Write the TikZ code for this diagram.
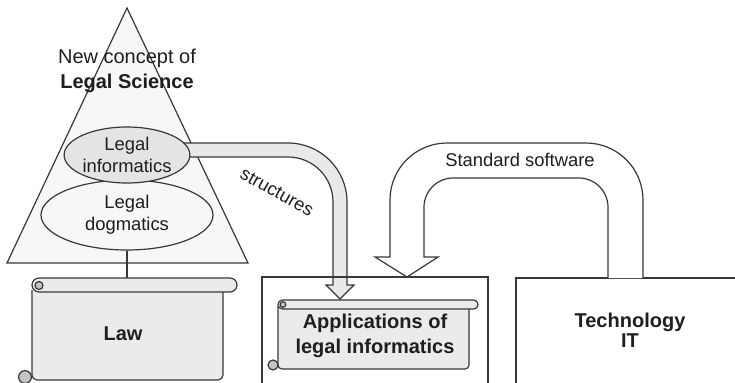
\documentclass[tikz,border=0pt]{standalone}
\usepackage{fontspec}
\setmainfont{Liberation Sans}
\usetikzlibrary{shapes.geometric}

\definecolor{edgegray}{HTML}{383838}
\definecolor{textgray}{HTML}{1E1E1E}
\definecolor{paper}{HTML}{F7F7F7}
\definecolor{infofill}{HTML}{E4E4E4}
\definecolor{scrollfill}{HTML}{EBEBEB}
\definecolor{arrowfill}{HTML}{E9E9E9}
\definecolor{curlfill}{HTML}{C4C4C4}

\begin{document}
\begin{tikzpicture}[x=.5pt, y=-.5pt,
  ln/.style={draw=edgegray, line width=.6pt},
  txt/.style={text=textgray, align=center, font=\fontsize{9.2}{11}\selectfont},
  btxt/.style={text=textgray, align=center, font=\bfseries\fontsize{10}{12.5}\selectfont},
  blob/.style={ellipse, ln, inner sep=0pt, txt}]

\useasboundingbox (0,0) rectangle (735,382);
\clip (0,0) rectangle (735,382);

% pyramid of legal science
\draw[ln, fill=paper] (127,8) -- (248,263) -- (7,263) -- cycle;
\node[txt, font=\fontsize{10}{12.5}\selectfont] (concept) at (127,71) {New concept of\\\textbf{Legal Science}};

\node[blob, fill=paper, minimum width=86pt, minimum height=35pt] (dogma) at (127,215) {Legal\\dogmatics};

% structures arrow, informatics -> applications
\draw[ln, fill=arrowfill] (127,143) -- (288,143) .. controls (320.6,143) and (347,169.4) .. (347,202)
  -- (347,285) -- (354,285) -- (340,299) -- (326,285) -- (333,285) -- (333,202)
  .. controls (333,177.1) and (312.9,157) .. (288,157) -- (127,157) -- cycle;
\node[txt, rotate=-29] (struct) at (277,192) {structures};

\node[blob, fill=infofill, minimum width=61pt, minimum height=28pt] (info) at (127,155) {Legal\\informatics};

\coordinate (lawtop) at (127,278);
\draw[ln] (dogma.south) -- (lawtop);

% law scroll
\draw[ln, fill=scrollfill, rounded corners=2.5pt] (32,290) -- (32,380) -- (223,380) -- (223,290);
\draw[ln, fill=scrollfill, rounded corners=3.5pt] (32,278) rectangle (237,292);
\draw[ln, fill=curlfill] (39,285.5) circle[radius=2pt];
\draw[ln, fill=curlfill] (25,377) circle[radius=3.2pt];
\node[btxt] (law) at (123,334) {Law};

% applications box
\draw[ln] (262,400) |- (488,277) -- (488,400);
\draw[ln, fill=scrollfill, rounded corners=2pt] (278,306) -- (278,369) -- (469,369) -- (469,306);
\draw[ln, fill=scrollfill, rounded corners=2.2pt] (278,300) rectangle (478,309);
\draw[ln, fill=curlfill] (283,304.5) circle[radius=1.4pt];
\draw[ln, fill=curlfill] (273,365) circle[radius=2.5pt];
\node[btxt] (apps) at (375,336) {Applications of\\legal informatics};

% technology box
\draw[ln] (516,400) |- (760,278);
\node[btxt, font=\bfseries\fontsize{10}{10}\selectfont] (tech) at (630,330) {Technology\\IT};

% standard software arrow, technology -> applications
\draw[ln, fill=white] (608,278) -- (608,207) .. controls (608,191) and (595,178) .. (579,178)
  -- (453,178) .. controls (437,178) and (424,191) .. (424,207)
  -- (424,257) -- (438,257) -- (407,277) -- (375,257) -- (390,257) -- (390,200)
  .. controls (390,168.5) and (415.5,143) .. (447,143) -- (586,143)
  .. controls (617.5,143) and (643,168.5) .. (643,200) -- (643,278);
\node[txt] (soft) at (520,160) {Standard software};

\end{tikzpicture}
\end{document}
